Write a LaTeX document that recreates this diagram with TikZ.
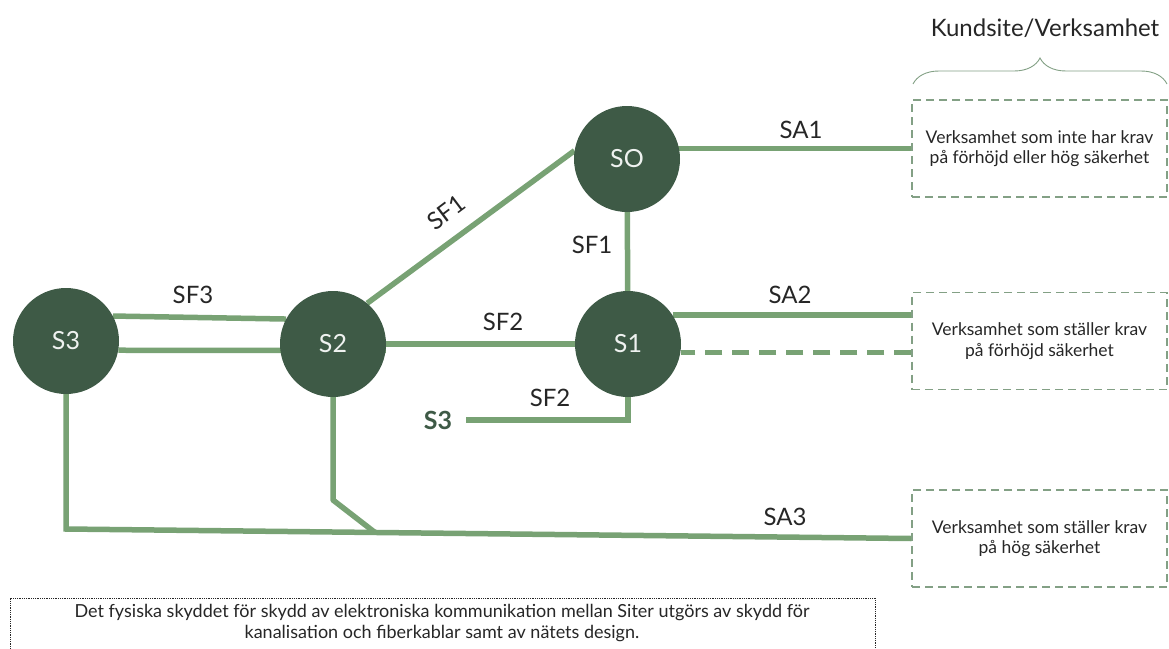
\documentclass[tikz,border=0pt]{standalone}
\usepackage{fontspec}
\setmainfont{Lato}
\usepackage{xcolor}
\usetikzlibrary{positioning,calc,backgrounds,decorations.pathreplacing}

\definecolor{sitegreen}{HTML}{3E5A46}
\definecolor{linkgreen}{HTML}{78A274}
\definecolor{boxgreen}{HTML}{83A085}
\definecolor{labelgray}{HTML}{262626}

\begin{document}
\begin{tikzpicture}[
    x=1pt, y=-1pt,
    site/.style={circle, fill=sitegreen, minimum size=106pt, inner sep=0,
        text=white!92!sitegreen, font=\fontsize{25}{28}\selectfont},
    link/.style={draw=linkgreen, line width=5.5pt},
    kund/.style={draw=boxgreen, line width=1.3pt, dash pattern=on 8pt off 5pt,
        minimum width=255pt, minimum height=97pt, align=center,
        text=labelgray, font=\fontsize{17.5}{20.5}\selectfont},
    lbl/.style={text=labelgray, font=\fontsize{24}{28}\selectfont, inner sep=1pt},
    ref/.style={text=sitegreen, font=\fontsize{25}{28}\selectfont\bfseries},
    note/.style={draw=black!85, densely dotted, line width=0.8pt}]

\useasboundingbox (0,0) rectangle (1169,648);

% sites
\node[site] (so) at (627,159) {SO};
\node[site] (s1) at (628,344) {S1};
\node[site] (s2) at (333,344) {S2};
\node[site] (s3) at (66,341) {S3};
\node[ref] (s3ref) at (438,420) {S3};

% kundsite / verksamhet
\node[kund] (k1) at (1039.5,148.5) {Verksamhet som inte har krav\\på förhöjd eller hög säkerhet};
\node[kund] (k2) at (1039.5,341) {Verksamhet som ställer krav\\på förhöjd säkerhet};
\node[kund] (k3) at (1039.5,538.5) {Verksamhet som ställer krav\\på hög säkerhet};

\draw[boxgreen, line width=0.9pt, decorate, decoration={brace, amplitude=26pt, aspect=0.5}]
    (913,84) -- (1167,84);
\node[lbl] (kundsite) at (1045,28) {Kundsite/Verksamhet};

\coordinate (j3) at (66,529);
\coordinate (j2) at (333,500);
\coordinate (m) at (375,532.5);

\begin{scope}[on background layer]
\draw[link] (k1.west) -- (k1.west -| so);
\draw[link] (so) -- (s1);
\draw[link] (s2.50) -- (so.171);
\draw[link] (s3.28) -- (s2.152);
\draw[link] (s3.-10) -- (s2.-7);
\draw[link] (s2) -- (s1);
\draw[link] (s1.33) -- (s1.33 -| k2.west);
\draw[link, dash pattern=on 17pt off 10pt] (k2.west |- s1.-9) -- (s1.-9);
\draw[link] (s1) -- (s1 |- s3ref.east) -- ([xshift=10pt]s3ref.east);
\draw[link] (s3) -- (j3) -- (k3.west);
\draw[link, line join=round] (s2) -- (j2) -- (m);
\end{scope}

% labels
\node[lbl] (sa1) at (801,130) {SA1};
\node[lbl] (sf1a) at (592,245) {SF1};
\node[lbl, rotate=37] (sf1b) at (446,212) {SF1};
\node[lbl] (sf3) at (193,295) {SF3};
\node[lbl] (sf2a) at (503,322) {SF2};
\node[lbl] (sa2) at (790,295) {SA2};
\node[lbl] (sf2b) at (550,398) {SF2};
\node[lbl] (sa3) at (785,517) {SA3};

% skydd mellan siter
\draw[note] (10,665) |- (875,598) -- (875,665);
\node[align=center, text=labelgray, font=\fontsize{18}{20.5}\selectfont] (info) at (442,623)
    {Det fysiska skyddet för skydd av elektroniska kommunikation mellan Siter utgörs av skydd för\\
     kanalisation och fiberkablar samt av nätets design.};

\end{tikzpicture}
\end{document}
